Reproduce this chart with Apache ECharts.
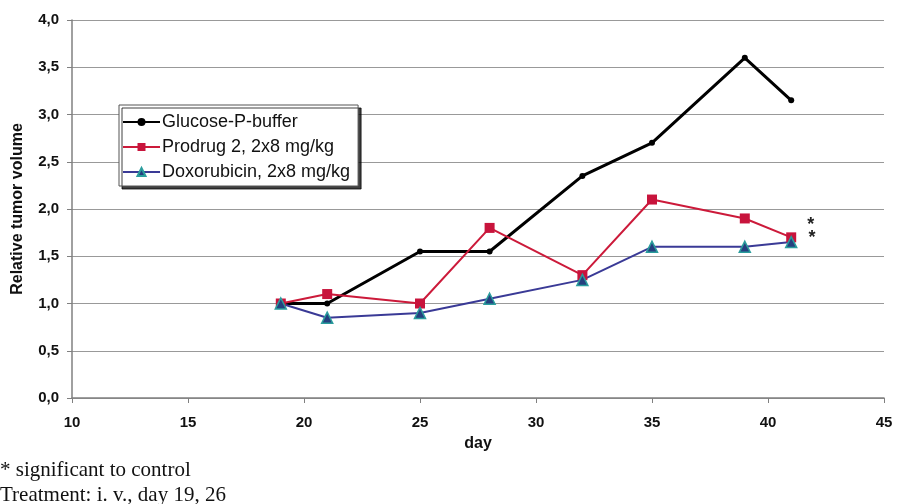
<!DOCTYPE html>
<html>
<head>
<meta charset="utf-8">
<script src="https://cdn.jsdelivr.net/npm/echarts@6/dist/echarts.min.js"></script>
<style>
  html, body { margin: 0; padding: 0; background: #fff; }
  #chart { width: 899px; height: 504px; }
</style>
</head>
<body>
<div id="chart"></div>
<script>
// Measurement days and relative tumor volume per treatment group
const days = [19, 21, 25, 28, 32, 35, 39, 41];
const glucose = [1.0, 1.0, 1.55, 1.55, 2.35, 2.7, 3.6, 3.15];
const prodrug = [1.0, 1.1, 1.0, 1.8, 1.3, 2.1, 1.9, 1.7];
const doxorubicin = [1.0, 0.85, 0.9, 1.05, 1.25, 1.6, 1.6, 1.65];
const seriesNames = ['Glucose-P-buffer', 'Prodrug 2, 2x8 mg/kg', 'Doxorubicin, 2x8 mg/kg'];
const footNotes = ['* significant to control', 'Treatment: i. v., day 19, 26'];

const pairs = (ys) => days.map((d, i) => [d, ys[i]]);

// Last point of the treated groups carries the significance asterisk
function withStar(ys, dy) {
  return pairs(ys).map((p, i) => i === ys.length - 1
    ? { value: p, label: { show: true, formatter: '*', position: 'right', offset: [6, dy],
        fontSize: 18, fontWeight: 'bold', color: '#222', fontFamily: 'Liberation Sans' } }
    : p);
}

const chart = echarts.init(document.getElementById('chart'), null, { renderer: 'canvas' });
const font = 'Liberation Sans, Arial, sans-serif';

chart.setOption({
  animation: false,
  backgroundColor: '#fff',
  grid: { left: 72, right: 15, top: 20, bottom: 106, containLabel: false, outerBoundsMode: 'none' },
  legend: {
    orient: 'vertical',
    left: 119, top: 105,
    padding: [8, 8, 5, 3],
    itemGap: 7,
    itemWidth: 37, itemHeight: 10,
    backgroundColor: '#fff',
    borderColor: '#555', borderWidth: 1,
    borderRadius: 0,
    shadowColor: 'rgba(0,0,0,0.75)', shadowBlur: 0, shadowOffsetX: 3, shadowOffsetY: 3,
    textStyle: { fontFamily: font, fontSize: 18, color: '#111', padding: [0, 0, 0, -3] },
    data: seriesNames
  },
  xAxis: {
    type: 'value', min: 10, max: 45, interval: 5,
    name: 'day', nameLocation: 'middle', nameGap: 38,
    nameTextStyle: { fontFamily: font, fontSize: 16, fontWeight: 'bold', color: '#111' },
    axisLine: { lineStyle: { color: '#808080', width: 1.5 } },
    axisTick: { show: true, length: 5, lineStyle: { color: '#808080' } },
    axisLabel: { fontFamily: font, fontSize: 15, fontWeight: 'bold', color: '#111', margin: 17 },
    splitLine: { show: false }
  },
  yAxis: {
    type: 'value', min: 0, max: 4, interval: 0.5,
    name: 'Relative tumor volume', nameLocation: 'middle', nameGap: 46, nameRotate: 90,
    nameTextStyle: { fontFamily: font, fontSize: 16, fontWeight: 'bold', color: '#111' },
    axisLine: { show: true, lineStyle: { color: '#808080', width: 1.5 } },
    axisTick: { show: true, length: 5, lineStyle: { color: '#808080' } },
    axisLabel: { fontFamily: font, fontSize: 15, fontWeight: 'bold', color: '#111', margin: 13,
      formatter: v => v.toFixed(1).replace('.', ',') },
    splitLine: { show: true, lineStyle: { color: '#999', width: 1.2 } }
  },
  series: [
    {
      name: seriesNames[0], type: 'line', data: pairs(glucose),
      symbol: 'circle', symbolSize: 6,
      lineStyle: { color: '#000', width: 3 },
      itemStyle: { color: '#000' }
    },
    {
      name: seriesNames[1], type: 'line', data: withStar(prodrug, -12),
      symbol: 'rect', symbolSize: 10,
      lineStyle: { color: '#cc1a3a', width: 2 },
      itemStyle: { color: '#c8143c' }
    },
    {
      name: seriesNames[2], type: 'line', data: withStar(doxorubicin, -4),
      symbol: 'triangle', symbolSize: 11,
      lineStyle: { color: '#3a3a96', width: 2 },
      itemStyle: { color: '#25407f', borderColor: '#2a9d9d', borderWidth: 1.5 }
    }
  ],
  graphic: footNotes.map((t, i) => ({
    type: 'text', left: 0, top: 460 + i * 25,
    style: { text: t, font: '21px "Liberation Serif", "Times New Roman", serif', fill: '#111' }
  }))
});
</script>
</body>
</html>
